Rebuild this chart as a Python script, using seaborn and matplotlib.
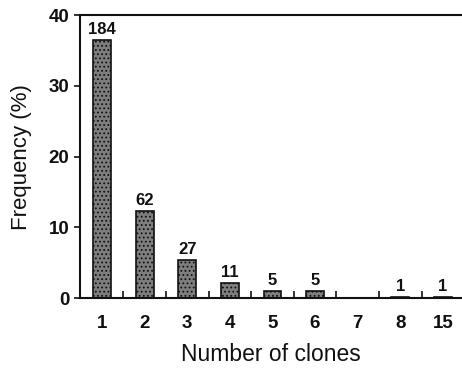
import matplotlib
matplotlib.use("Agg")
import matplotlib.pyplot as plt
import seaborn as sns
import pandas as pd

# Clone-number distribution
clone_labels = ["1", "2", "3", "4", "5", "6", "7", "8", "15"]
clone_counts = [184, 62, 27, 11, 5, 5, 0, 1, 1]
frequency_pct = [36.5, 12.3, 5.4, 2.2, 1.0, 1.0, 0.0, 0.2, 0.2]

df = pd.DataFrame({"clones": clone_labels, "freq": frequency_pct, "n": clone_counts})

sns.set_theme(style="ticks")
plt.rcParams["font.family"] = ["Liberation Sans", "DejaVu Sans"]
plt.rcParams["hatch.color"] = "#333333"
plt.rcParams["hatch.linewidth"] = 0.8

fig = plt.figure(figsize=(4.62, 3.69), dpi=100)
ax = fig.add_axes([0.173, 0.192, 0.827, 0.767])

sns.barplot(data=df, x="clones", y="freq", order=clone_labels, color="#7e7e7e",
            width=0.42, edgecolor="#111111", linewidth=1.2, saturation=1, ax=ax)
for p in ax.patches:
    p.set_hatch("....")

for i, (f, n) in enumerate(zip(frequency_pct, clone_counts)):
    if n > 0:
        ax.text(i, f + 0.4, str(n), ha="center", va="bottom", fontsize=12,
                fontweight="bold", color="#111111")

ax.set_xlim(-0.52, 8.45)
ax.set_ylim(0, 40)
ax.set_yticks([0, 10, 20, 30, 40])
ax.set_xticks(range(len(clone_labels)))
ax.set_xticklabels(clone_labels)
ax.set_xticks([i + 0.5 for i in range(len(clone_labels) - 1)], minor=True)
ax.tick_params(axis="x", which="major", length=0, pad=12, labelsize=13.5)
ax.tick_params(axis="x", which="minor", direction="in", length=5, width=1.2, color="#111111")
ax.tick_params(axis="y", which="major", direction="out", length=4, width=1.2,
               labelsize=13.5, color="#111111")
for lab in ax.get_xticklabels() + ax.get_yticklabels():
    lab.set_fontweight("bold")
    lab.set_color("#111111")

sns.despine(ax=ax, right=True, top=False)
for s in ["left", "bottom", "top"]:
    ax.spines[s].set_linewidth(1.5)
    ax.spines[s].set_color("#111111")

ax.set_xlabel("Number of clones", fontsize=16.5, labelpad=8, color="#111111")
ax.set_ylabel("Frequency (%)", fontsize=16, labelpad=12, color="#111111")

fig.savefig("out.png", dpi=100, facecolor="white")
